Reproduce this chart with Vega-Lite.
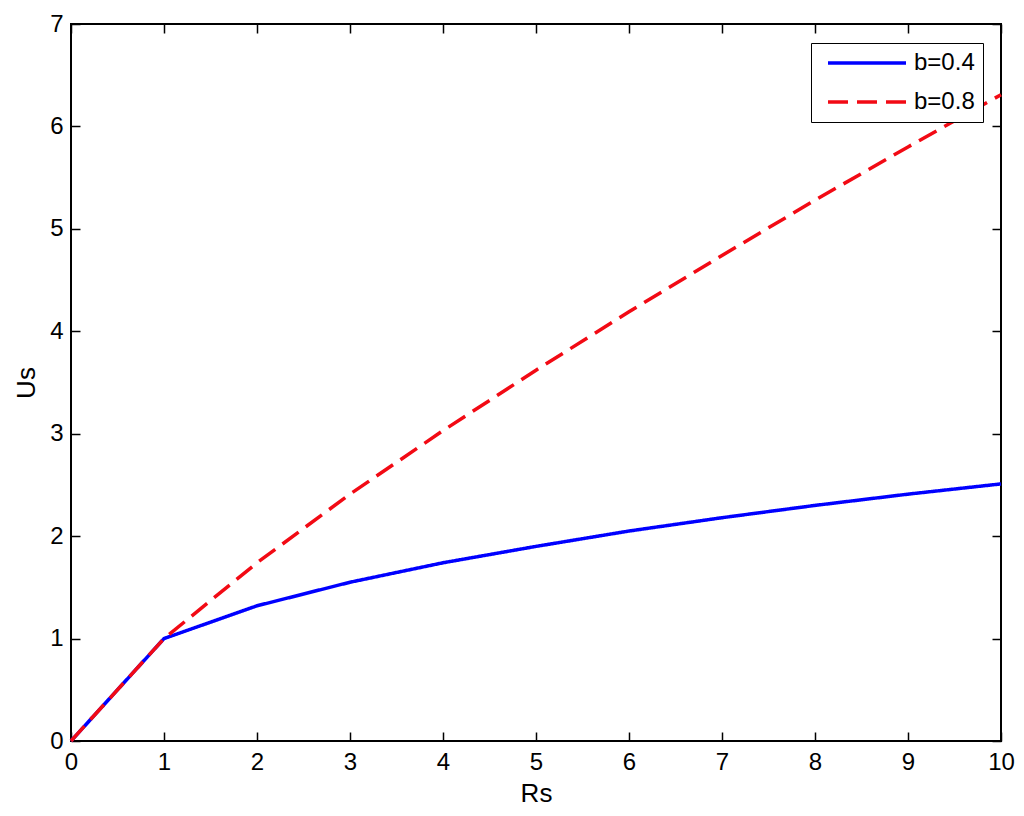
{
  "$schema": "https://vega.github.io/schema/vega-lite/v6.json",
  "width": 930,
  "height": 717,
  "autosize": {"type": "none"},
  "padding": {"left": 71, "top": 24, "right": 23, "bottom": 75},
  "background": "white",
  "config": {
    "view": {"stroke": "#000000", "strokeWidth": 2},
    "font": "Liberation Sans",
    "axis": {
      "grid": false,
      "domain": false,
      "tickColor": "#000000",
      "tickWidth": 1.5,
      "tickSize": -9,
      "labelFlush": false,
      "labelFont": "Liberation Sans",
      "labelFontSize": 24,
      "labelColor": "#000000",
      "titleFont": "Liberation Sans",
      "titleFontSize": 26,
      "titleFontWeight": "normal",
      "titleColor": "#000000"
    }
  },
  "data": {
    "values": [
      {"Rs": 0, "Us": 0, "b": "b=0.4"},
      {"Rs": 1, "Us": 1.0, "b": "b=0.4"},
      {"Rs": 2, "Us": 1.32, "b": "b=0.4"},
      {"Rs": 3, "Us": 1.55, "b": "b=0.4"},
      {"Rs": 4, "Us": 1.74, "b": "b=0.4"},
      {"Rs": 5, "Us": 1.90, "b": "b=0.4"},
      {"Rs": 6, "Us": 2.05, "b": "b=0.4"},
      {"Rs": 7, "Us": 2.18, "b": "b=0.4"},
      {"Rs": 8, "Us": 2.30, "b": "b=0.4"},
      {"Rs": 9, "Us": 2.41, "b": "b=0.4"},
      {"Rs": 10, "Us": 2.51, "b": "b=0.4"},
      {"Rs": 0, "Us": 0, "b": "b=0.8"},
      {"Rs": 1, "Us": 1.0, "b": "b=0.8"},
      {"Rs": 2, "Us": 1.74, "b": "b=0.8"},
      {"Rs": 3, "Us": 2.41, "b": "b=0.8"},
      {"Rs": 4, "Us": 3.03, "b": "b=0.8"},
      {"Rs": 5, "Us": 3.62, "b": "b=0.8"},
      {"Rs": 6, "Us": 4.19, "b": "b=0.8"},
      {"Rs": 7, "Us": 4.74, "b": "b=0.8"},
      {"Rs": 8, "Us": 5.28, "b": "b=0.8"},
      {"Rs": 9, "Us": 5.80, "b": "b=0.8"},
      {"Rs": 10, "Us": 6.31, "b": "b=0.8"}
    ]
  },
  "resolve": {"axis": {"x": "independent", "y": "independent"}},
  "layer": [
    {
      "mark": {"type": "line", "strokeWidth": 3.5},
      "encoding": {
        "x": {
          "field": "Rs", "type": "quantitative",
          "scale": {"domain": [0, 10], "nice": false, "zero": false},
          "axis": {"orient": "bottom", "title": "Rs", "values": [0,1,2,3,4,5,6,7,8,9,10], "labelPadding": 18, "titlePadding": 6}
        },
        "y": {
          "field": "Us", "type": "quantitative",
          "scale": {"domain": [0, 7], "nice": false, "zero": false},
          "axis": {"orient": "left", "title": "Us", "values": [0,1,2,3,4,5,6,7], "labelPadding": 17, "titlePadding": 10}
        },
        "color": {
          "field": "b", "type": "nominal",
          "scale": {"domain": ["b=0.4", "b=0.8"], "range": ["#0000ff", "#f20a14"]},
          "legend": {
            "title": null,
            "orient": "none",
            "legendX": 740,
            "legendY": 19,
            "padding": 8,
            "strokeColor": "#000000",
            "fillColor": "#ffffff",
            "symbolType": "M-0.3,0H7.5",
            "symbolSize": 400,
            "symbolStrokeWidth": 3.5,
            "labelFont": "Liberation Sans",
            "labelFontSize": 24,
            "labelColor": "#000000",
            "labelOffset": 71,
            "rowPadding": 15
          }
        },
        "strokeDash": {
          "field": "b", "type": "nominal",
          "scale": {"domain": ["b=0.4", "b=0.8"], "range": [[1, 0], [20, 9]]},
          "legend": {
            "title": null,
            "orient": "none",
            "legendX": 740,
            "legendY": 19,
            "padding": 8,
            "strokeColor": "#000000",
            "fillColor": "#ffffff",
            "symbolType": "M-0.3,0H7.5",
            "symbolSize": 400,
            "symbolStrokeWidth": 3.5,
            "labelFont": "Liberation Sans",
            "labelFontSize": 24,
            "labelColor": "#000000",
            "labelOffset": 71,
            "rowPadding": 15
          }
        }
      }
    },
    {
      "mark": {"type": "line", "opacity": 0},
      "encoding": {
        "x": {
          "field": "Rs", "type": "quantitative",
          "axis": {"orient": "top", "title": null, "labels": false, "values": [0,1,2,3,4,5,6,7,8,9,10]}
        },
        "y": {
          "field": "Us", "type": "quantitative",
          "axis": {"orient": "right", "title": null, "labels": false, "values": [0,1,2,3,4,5,6,7]}
        },
        "detail": {"field": "b", "type": "nominal"}
      }
    }
  ]
}
